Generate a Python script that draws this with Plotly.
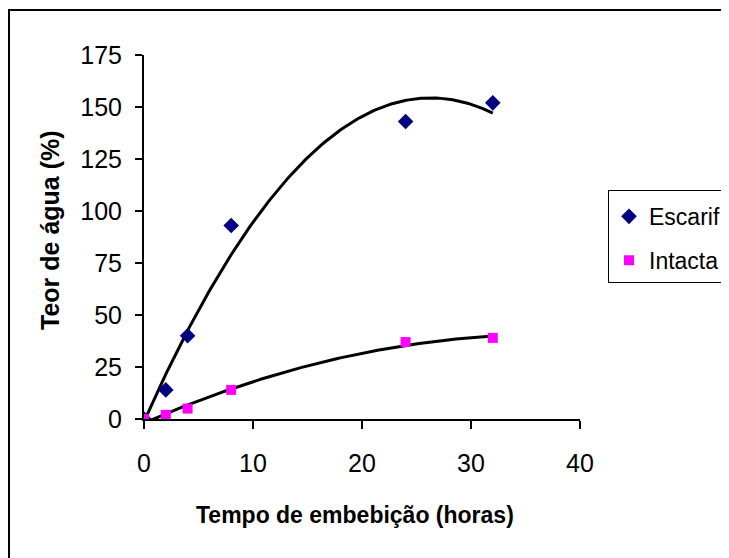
import numpy as np
import plotly.graph_objects as go

# Data
horas = [0, 2, 4, 8, 24, 32]
escarif = [0, 14, 40, 93, 143, 152]
intacta = [0, 2, 5, 14, 37, 39]

x_ticks = [0, 10, 20, 30, 40]
y_ticks = [0, 25, 50, 75, 100, 125, 150, 175]

# Polynomial (order 2) trendlines, as in the original spreadsheet chart
xf = np.linspace(min(horas), max(horas), 200)
fit_e = np.polyval(np.polyfit(horas, escarif, 2), xf)
fit_i = np.polyval(np.polyfit(horas, intacta, 2), xf)

REG = "Liberation Sans, Arial, sans-serif"

fig = go.Figure()
fig.add_trace(go.Scatter(x=xf, y=fit_e, mode="lines", line=dict(color="black", width=3),
                         showlegend=False, hoverinfo="skip"))
fig.add_trace(go.Scatter(x=xf, y=fit_i, mode="lines", line=dict(color="black", width=3),
                         showlegend=False, hoverinfo="skip"))
fig.add_trace(go.Scatter(x=horas, y=escarif, mode="markers", name="Escarif",
                         legendgroup="a",
                         marker=dict(symbol="diamond", size=12, color="#000080")))
fig.add_trace(go.Scatter(x=horas, y=intacta, mode="markers", name="Intacta",
                         legendgroup="b",
                         marker=dict(symbol="square", size=10, color="#FF00FF")))

# the page body adds an 8px offset; compensate so the plot area sits at
# screen x 144..580, y 55..419
OFF = 8
W, H = 729, 558
pw, ph = 436, 364
L, T = 144 - OFF, 55 - OFF
R, B = W - L - pw, H - T - ph

def px2x(p):
    return (p - 144) / pw

def px2y(p):
    return (419 - p) / ph

fig.update_layout(
    width=W, height=H,
    margin=dict(l=L, r=R, t=T, b=B, autoexpand=False),
    paper_bgcolor="white", plot_bgcolor="white",
    xaxis=dict(range=[0, 40], tickvals=x_ticks, showgrid=False, zeroline=False,
               showline=True, linecolor="black", linewidth=2,
               ticks="outside", ticklen=8, tickwidth=2, tickcolor="black",
               tickfont=dict(family=REG, size=25, color="black"),
               ticklabelstandoff=13),
    yaxis=dict(range=[0, 175], tickvals=y_ticks, showgrid=False, zeroline=False,
               showline=True, linecolor="black", linewidth=2,
               ticks="outside", ticklen=7, tickwidth=2, tickcolor="black",
               tickfont=dict(family=REG, size=25, color="black"),
               ticklabelstandoff=8),
    legend=dict(x=px2x(608), y=px2y(190), xanchor="left", yanchor="top",
                bordercolor="black", borderwidth=1, bgcolor="white",
                font=dict(family=REG, size=23, color="black"),
                title=dict(text=" ", font=dict(size=3)),
                traceorder="grouped", tracegroupgap=11),
    showlegend=True,
    annotations=[
        dict(text="<b>Tempo de embebição (horas)</b>", xref="paper", yref="paper",
             x=px2x(355), y=px2y(515), xanchor="center", yanchor="middle",
             showarrow=False, font=dict(family=REG, size=23, color="black")),
        dict(text="<b>Teor de água (%)</b>", xref="paper", yref="paper",
             x=px2x(50), y=px2y(230), xanchor="center", yanchor="middle",
             textangle=-90, showarrow=False,
             font=dict(family=REG, size=25, color="black")),
    ],
    shapes=[dict(type="rect", xref="paper", yref="paper",
                 x0=px2x(9), y0=px2y(H + 20), x1=px2x(W + 20), y1=px2y(10),
                 line=dict(color="black", width=2), fillcolor="rgba(0,0,0,0)",
                 layer="below")],
)

fig.write_html("out.html")
